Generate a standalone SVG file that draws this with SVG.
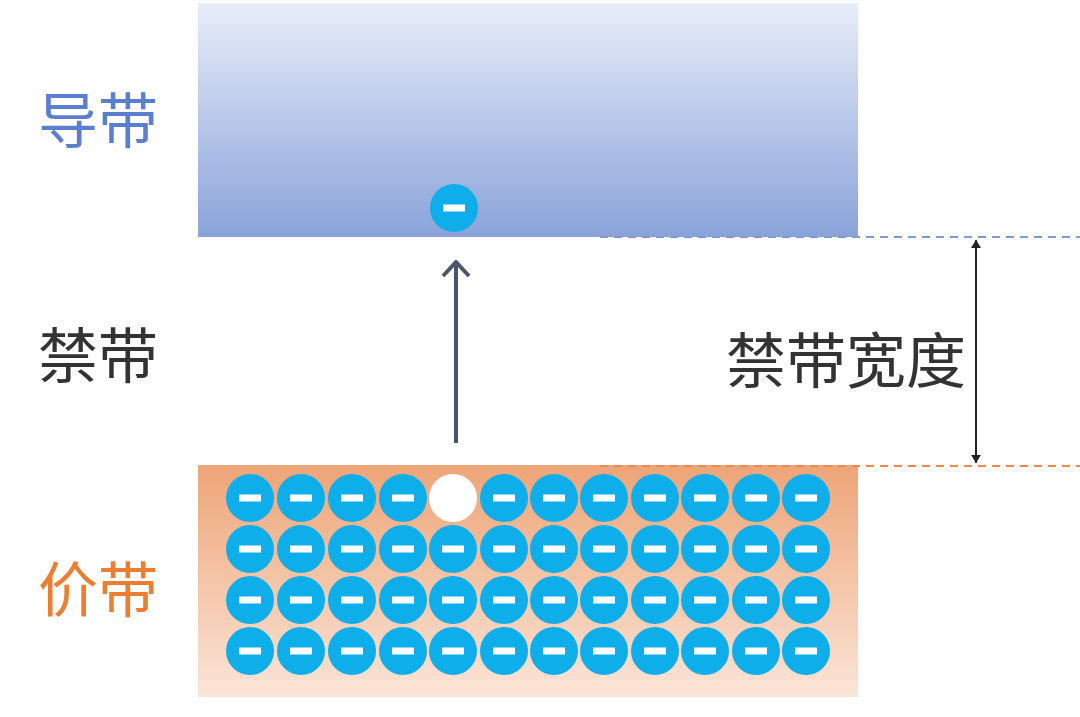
<svg xmlns="http://www.w3.org/2000/svg" xmlns:xlink="http://www.w3.org/1999/xlink" width="1080" height="717" viewBox="0 0 1080 717">
<style>
.lbl{font-family:"Liberation Sans","Noto Sans CJK SC",sans-serif;font-size:60px}
</style>
<defs>
<linearGradient id="cb" x1="0" y1="0" x2="0" y2="1"><stop offset="0" stop-color="#e8edf9"/><stop offset="1" stop-color="#8aa3da"/></linearGradient>
<linearGradient id="vb" x1="0" y1="0" x2="0" y2="1"><stop offset="0" stop-color="#eea477"/><stop offset="1" stop-color="#fbe5d8"/></linearGradient>
<g id="e"><circle r="24" fill="#0eaeea"/><rect x="-11" y="-3.5" width="22" height="7" fill="#fff"/></g>
<marker id="ah" viewBox="0 0 10 10" refX="9" refY="5" markerWidth="10" markerHeight="10" markerUnits="userSpaceOnUse" orient="auto-start-reverse"><path d="M1,0 L9,5 L1,10 Z" fill="#222"/></marker>
<marker id="up" viewBox="0 0 30 30" refX="28" refY="15" markerWidth="30" markerHeight="30" markerUnits="userSpaceOnUse" orient="auto"><path d="M14,2 L28,15 L14,28" fill="none" stroke="#4a5568" stroke-width="4"/></marker>
</defs>
<rect width="1080" height="717" fill="#fff"/>
<g id="conduction"><rect x="198" y="3" width="660" height="234" fill="url(#cb)"/><use href="#e" x="454" y="208"/></g>
<g id="valence"><rect x="198" y="465" width="660" height="232" fill="url(#vb)"/>
<g id="electrons">
<use href="#e" x="250" y="498"/><use href="#e" x="301" y="498"/><use href="#e" x="352" y="498"/><use href="#e" x="403" y="498"/><circle cx="453" cy="498" r="24" fill="#fff"/><use href="#e" x="504" y="498"/><use href="#e" x="554" y="498"/><use href="#e" x="604" y="498"/><use href="#e" x="655" y="498"/><use href="#e" x="705" y="498"/><use href="#e" x="756" y="498"/><use href="#e" x="806" y="498"/>
<use href="#e" x="250" y="549"/><use href="#e" x="301" y="549"/><use href="#e" x="352" y="549"/><use href="#e" x="403" y="549"/><use href="#e" x="453" y="549"/><use href="#e" x="504" y="549"/><use href="#e" x="554" y="549"/><use href="#e" x="604" y="549"/><use href="#e" x="655" y="549"/><use href="#e" x="705" y="549"/><use href="#e" x="756" y="549"/><use href="#e" x="806" y="549"/>
<use href="#e" x="250" y="600"/><use href="#e" x="301" y="600"/><use href="#e" x="352" y="600"/><use href="#e" x="403" y="600"/><use href="#e" x="453" y="600"/><use href="#e" x="504" y="600"/><use href="#e" x="554" y="600"/><use href="#e" x="604" y="600"/><use href="#e" x="655" y="600"/><use href="#e" x="705" y="600"/><use href="#e" x="756" y="600"/><use href="#e" x="806" y="600"/>
<use href="#e" x="250" y="651"/><use href="#e" x="301" y="651"/><use href="#e" x="352" y="651"/><use href="#e" x="403" y="651"/><use href="#e" x="453" y="651"/><use href="#e" x="504" y="651"/><use href="#e" x="554" y="651"/><use href="#e" x="604" y="651"/><use href="#e" x="655" y="651"/><use href="#e" x="705" y="651"/><use href="#e" x="756" y="651"/><use href="#e" x="806" y="651"/>
</g></g>
<g id="connectors">
<line x1="600" y1="237" x2="1080" y2="237" stroke="#7f9ad8" stroke-width="2" stroke-dasharray="8,6"/>
<line x1="600" y1="466" x2="1080" y2="466" stroke="#ed8a50" stroke-width="2" stroke-dasharray="8,6"/>
<line x1="976" y1="240" x2="976" y2="463" stroke="#222" stroke-width="2" marker-start="url(#ah)" marker-end="url(#ah)"/>
<line x1="456" y1="443" x2="456" y2="262" stroke="#4a5568" stroke-width="4" marker-end="url(#up)"/>
</g>
<text class="lbl" x="38" y="143" fill="#5b7fcf">导带</text>
<text class="lbl" x="38" y="378" fill="#333">禁带</text>
<text class="lbl" x="38" y="612" fill="#ed7d31">价带</text>
<text class="lbl" x="726" y="383" fill="#333">禁带宽度</text>
</svg>
